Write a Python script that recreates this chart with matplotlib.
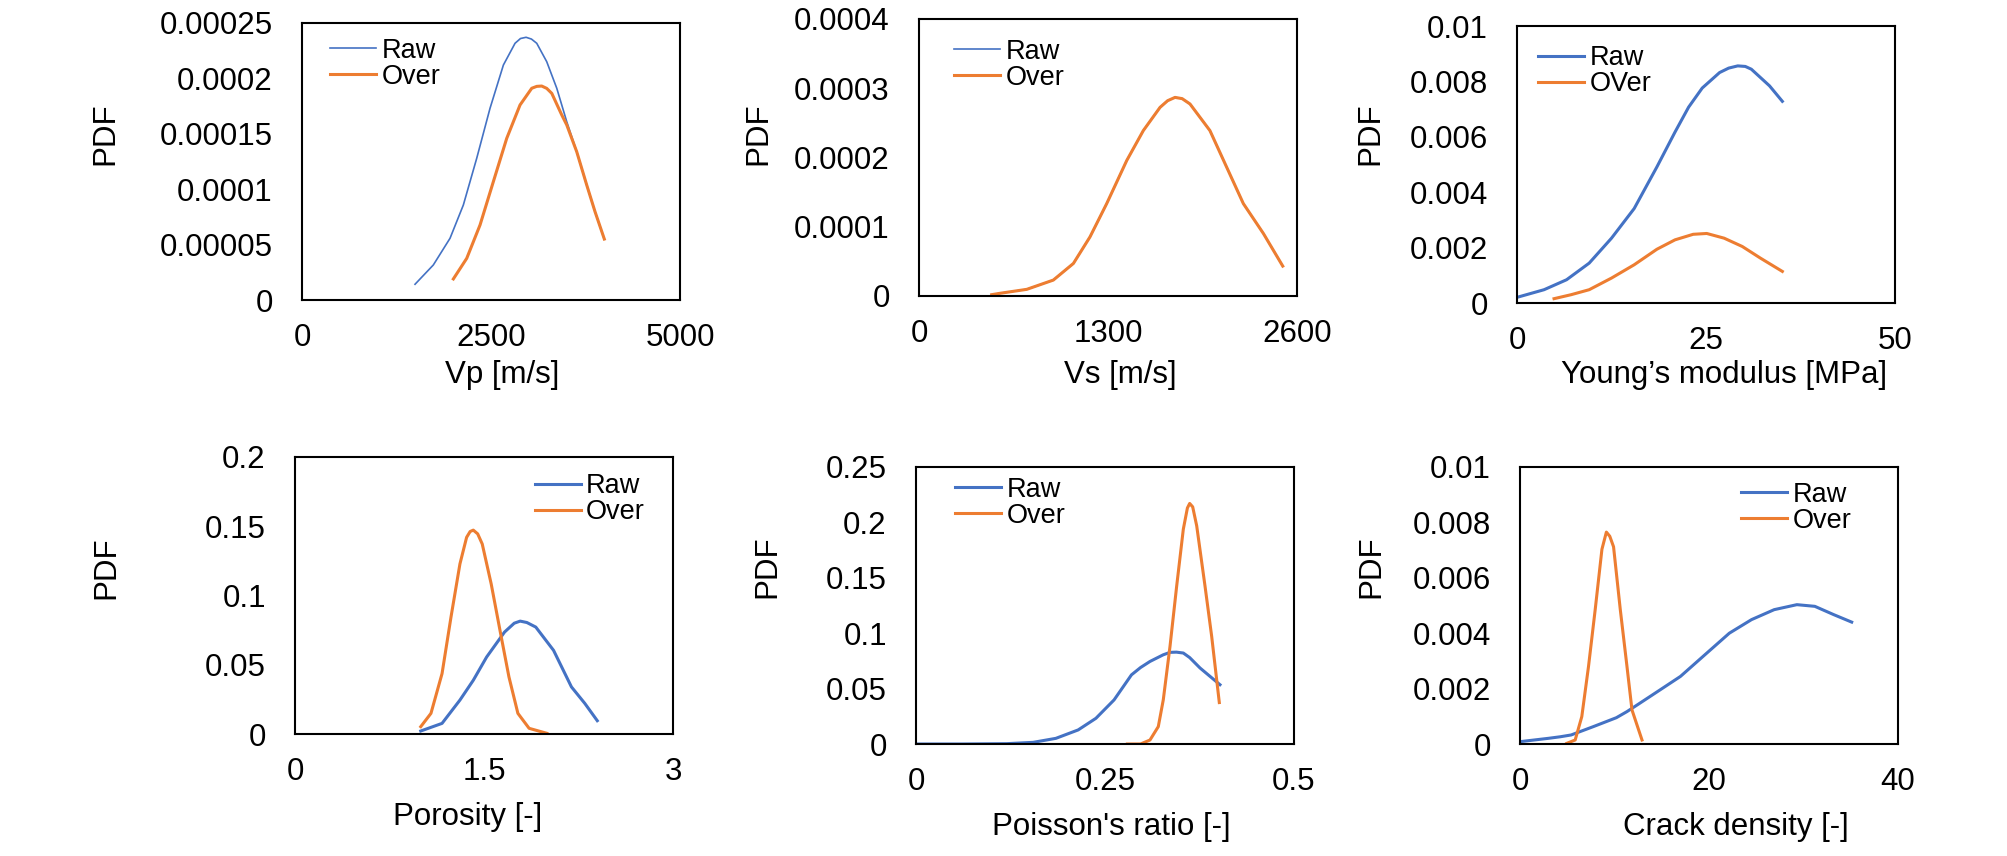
import matplotlib
matplotlib.use("Agg")
import matplotlib.pyplot as plt

plt.rcParams["font.family"] = ["Liberation Sans", "DejaVu Sans"]

BLUE = "#4472C4"
ORANGE = "#ED7D31"

# --- data ---
vp_raw_x = [1495, 1737, 1958, 2134, 2311, 2487, 2664, 2818, 2890, 2964, 3035, 3105, 3237, 3370, 3502,
            3634, 3766, 3876, 3999]
vp_raw_y = [0.0000142, 0.0000316, 0.0000557, 0.0000857, 0.0001279, 0.000173, 0.0002121, 0.0002317,
            0.0002360, 0.0002371, 0.0002355, 0.0002317, 0.0002151, 0.0001911, 0.0001609, 0.0001338,
            0.0001038, 0.0000797, 0.000055]
vp_over_x = [2002, 2179, 2355, 2531, 2708, 2884, 3039, 3105, 3171, 3237, 3304, 3436, 3502, 3634, 3766,
             3876, 3999]
vp_over_y = [0.000019, 0.0000376, 0.0000677, 0.0001068, 0.0001459, 0.000176, 0.0001911, 0.0001928,
             0.0001931, 0.0001910, 0.0001865, 0.000167, 0.000158, 0.0001338, 0.0001038, 0.0000797,
             0.000055]

vs_x = [500, 557, 741, 924, 1062, 1176, 1291, 1429, 1543, 1658, 1710, 1761, 1810, 1864, 2001, 2116,
        2231, 2369, 2502]
vs_y = [0.0000019, 0.0000039, 0.0000096, 0.000023, 0.000047, 0.0000853, 0.0001334, 0.0001957,
        0.0002389, 0.0002724, 0.000282, 0.0002868, 0.000285, 0.0002773, 0.0002389, 0.0001861,
        0.0001334, 0.0000902, 0.0000432]

ym_raw_x = [0, 3.58, 6.56, 9.55, 12.5, 15.5, 18.5, 20.9, 22.7, 24.5, 26.8, 28.0, 29.2, 30.2, 31.0,
            33.4, 35.1]
ym_raw_y = [0.000204, 0.00048, 0.00084, 0.00144, 0.00234, 0.00341, 0.00491, 0.00617, 0.00707,
            0.00776, 0.00832, 0.00848, 0.00856, 0.00854, 0.00844, 0.00784, 0.00728]
ym_over_x = [4.9, 7.16, 9.55, 12.5, 15.5, 18.5, 20.9, 23.3, 25.1, 27.4, 29.8, 32.2, 35.1]
ym_over_y = [0.000156, 0.0003, 0.00048, 0.0009, 0.00138, 0.00194, 0.00228, 0.00248, 0.00251,
             0.00234, 0.00204, 0.00162, 0.00114]

por_raw_x = [0.998, 1.167, 1.309, 1.415, 1.521, 1.663, 1.74, 1.787, 1.84, 1.911, 2.052, 2.194, 2.3, 2.399]
por_raw_y = [0.00216, 0.00767, 0.0245, 0.0388, 0.0556, 0.0736, 0.0800, 0.0815, 0.0805, 0.0772,
             0.0604, 0.034, 0.0221, 0.0096]
por_over_x = [0.998, 1.079, 1.167, 1.238, 1.309, 1.362, 1.39, 1.415, 1.45, 1.486, 1.557, 1.627,
              1.698, 1.769, 1.858, 1.999]
por_over_y = [0.0053, 0.0149, 0.0436, 0.0844, 0.1228, 0.142, 0.1462, 0.1472, 0.1445, 0.1372,
              0.1084, 0.0748, 0.0412, 0.0149, 0.0041, 0.0005]

poi_raw_x = [0, 0.061, 0.12, 0.155, 0.185, 0.2145, 0.238, 0.262, 0.285, 0.297, 0.3095, 0.327, 0.336,
             0.3445, 0.3536, 0.362, 0.3757, 0.4021]
poi_raw_y = [0, 0, 0.0003, 0.0015, 0.0051, 0.0127, 0.0232, 0.0398, 0.0624, 0.0690, 0.0745, 0.0805,
             0.0827, 0.0829, 0.0821, 0.078, 0.0686, 0.0535]
poi_over_x = [0.2796, 0.297, 0.3095, 0.3205, 0.3271, 0.336, 0.3448, 0.3536, 0.359, 0.362, 0.366,
              0.3713, 0.3823, 0.3911, 0.4012]
poi_over_y = [0, 0, 0.0036, 0.0157, 0.0399, 0.0882, 0.1425, 0.1939, 0.213, 0.2171, 0.214, 0.1969,
              0.1425, 0.0972, 0.0374]

cd_raw_x = [0, 3.01, 4.24, 5.41, 7.78, 10.2, 11.32, 12.58, 14.85, 16.98, 19.76, 22.15, 24.5, 26.9,
            29.3, 31.2, 33.2, 35.1]
cd_raw_y = [0.000084, 0.000205, 0.00026, 0.000326, 0.00063, 0.00095, 0.00117, 0.00145, 0.00196,
            0.00244, 0.00328, 0.004, 0.00449, 0.00485, 0.00503, 0.00497, 0.00467, 0.0044]
cd_over_x = [4.95, 5.84, 6.54, 7.25, 7.96, 8.67, 9.14, 9.5, 9.9, 10.61, 11.32, 11.85, 12.91]
cd_over_y = [0.000024, 0.000145, 0.00099, 0.0028, 0.00486, 0.00703, 0.00765, 0.0075, 0.00712,
             0.00486, 0.0028, 0.00123, 0.000145]

xlabels = ["Vp [m/s]", "Vs [m/s]", "Young\u2019s modulus [MPa]",
           "Porosity [-]", "Poisson's ratio [-]", "Crack density [-]"]
xticks = [[0, 2500, 5000], [0, 1300, 2600], [0, 25, 50],
          [0, 1.5, 3], [0, 0.25, 0.5], [0, 20, 40]]
yticks = [[0, 0.00005, 0.0001, 0.00015, 0.0002, 0.00025],
          [0, 0.0001, 0.0002, 0.0003, 0.0004],
          [0, 0.002, 0.004, 0.006, 0.008, 0.01],
          [0, 0.05, 0.1, 0.15, 0.2],
          [0, 0.05, 0.1, 0.15, 0.2, 0.25],
          [0, 0.002, 0.004, 0.006, 0.008, 0.01]]
legend_labels = [["Raw", "Over"], ["Raw", "Over"], ["Raw", "OVer"],
                 ["Raw", "Over"], ["Raw", "Over"], ["Raw", "Over"]]

series = [
    (vp_raw_x, vp_raw_y, vp_over_x, vp_over_y),
    (vs_x, vs_y, vs_x, vs_y),
    (ym_raw_x, ym_raw_y, ym_over_x, ym_over_y),
    (por_raw_x, por_raw_y, por_over_x, por_over_y),
    (poi_raw_x, poi_raw_y, poi_over_x, poi_over_y),
    (cd_raw_x, cd_raw_y, cd_over_x, cd_over_y),
]

# --- layout (pixel positions measured on the 2008x856 reference) ---
W, H = 2008, 856
AW, AH = 378, 277
axes_px = [(302, 300), (919, 296), (1517, 303), (295, 734), (916, 744), (1520, 744)]  # left, bottom
raw_lw = [1.2, 1.2, 2.2, 2.2, 2.2, 2.2]
leg_loc = ["upper left", "upper left", "upper left", "upper right", "upper left", "upper right"]
leg_anchor = [(0.074, 0.946), (0.093, 0.928), (0.056, 0.931), (0.926, 0.942), (0.103, 0.964), (0.876, 0.946)]
ylab_pos = [(-0.481, 0.60), (-0.386, 0.586), (-0.347, 0.61), (-0.460, 0.60), (-0.354, 0.64), (-0.354, 0.64)]
xlab_pos = [(0.529, -0.217), (0.532, -0.231), (0.548, -0.206), (0.458, -0.245), (0.516, -0.245), (0.571, -0.245)]


def fmt(v):
    s = f"{v:.10f}".rstrip("0").rstrip(".")
    return s if s else "0"


fig = plt.figure(figsize=(W / 100, H / 100), dpi=100)
for i in range(6):
    l, b = axes_px[i]
    ax = fig.add_axes([l / W, 1 - b / H, AW / W, AH / H])
    rx, ry, ox, oy = series[i]
    ax.plot(rx, ry, color=BLUE, lw=raw_lw[i], label=legend_labels[i][0], solid_joinstyle="round")
    ax.plot(ox, oy, color=ORANGE, lw=2.2, label=legend_labels[i][1], solid_joinstyle="round")
    ax.set_xlim(xticks[i][0], xticks[i][-1])
    ax.set_ylim(yticks[i][0], yticks[i][-1])
    ax.set_xticks(xticks[i])
    ax.set_xticklabels([fmt(v) for v in xticks[i]])
    ax.set_yticks(yticks[i])
    ax.set_yticklabels([fmt(v) for v in yticks[i]])
    ax.tick_params(axis="both", length=0, labelsize=22.5)
    ax.tick_params(axis="x", pad=16.5)
    ax.tick_params(axis="y", pad=21)
    for sp in ax.spines.values():
        sp.set_linewidth(1.5)
        sp.set_color("black")
    ax.set_ylabel("PDF", fontsize=22.5)
    ax.yaxis.set_label_coords(*ylab_pos[i])
    ax.set_xlabel(xlabels[i], fontsize=22.5)
    ax.xaxis.set_label_coords(*xlab_pos[i])
    ax.legend(loc=leg_loc[i], bbox_to_anchor=leg_anchor[i], frameon=False, fontsize=19.5,
              handlelength=1.7, handletextpad=0.2, labelspacing=0.0, borderpad=0, borderaxespad=0)

fig.savefig("out.png", dpi=100)
